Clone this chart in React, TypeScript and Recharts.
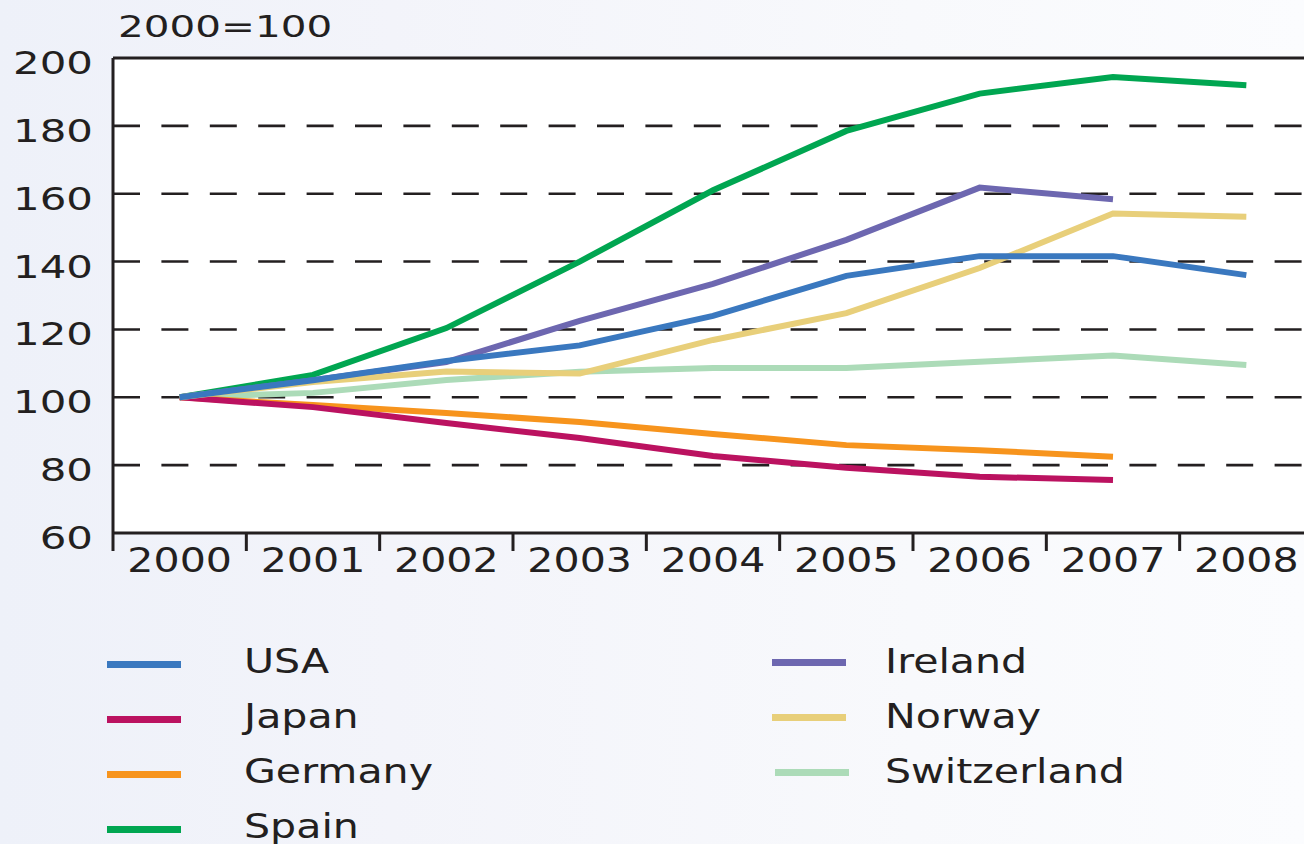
import React from 'react';
import { LineChart, Line, XAxis, YAxis, CartesianGrid, ReferenceLine } from 'recharts';

const years = ['2000', '2001', '2002', '2003', '2004', '2005', '2006', '2007', '2008'];
const usa = [100, 105, 110.7, 115.3, 124, 135.8, 141.6, 141.6, 136];
const japan = [100, 97.1, 92.4, 88, 82.7, 79.2, 76.6, 75.6, null];
const germany = [100, 97.7, 95.4, 92.7, 89.2, 85.9, 84.4, 82.5, null];
const spain = [100, 106.6, 120.4, 140, 161, 178.5, 189.5, 194.4, 192];
const ireland = [100, 105, 110.4, 122.5, 133.4, 146.4, 161.8, 158.4, null];
const norway = [100, 104.5, 107.6, 107, 116.9, 124.8, 138.1, 154.2, 153.2];
const switzerland = [100, 101.3, 105.1, 107.5, 108.6, 108.6, 110.5, 112.3, 109.5];
const yTicks = [60, 80, 100, 120, 140, 160, 180, 200];
const gridValues = [80, 100, 120, 140, 160, 180];
const title = '2000=100';

const series = [
  { key: 'Switzerland', values: switzerland, color: '#acdbb8' },
  { key: 'Germany', values: germany, color: '#f7941d' },
  { key: 'Japan', values: japan, color: '#bb1260' },
  { key: 'Spain', values: spain, color: '#00a651' },
  { key: 'Ireland', values: ireland, color: '#6d67b0' },
  { key: 'Norway', values: norway, color: '#e8cf7a' },
  { key: 'USA', values: usa, color: '#3a78bf' },
];

const legendLeft = ['USA', 'Japan', 'Germany', 'Spain'];
const legendRight = ['Ireland', 'Norway', 'Switzerland'];

const data = years.map((y, i) => {
  const row: any = { year: y };
  series.forEach((s) => {
    row[s.key] = s.values[i];
  });
  return row;
});

const INK = '#231f20';
const FONT = '"DejaVu Sans", Verdana, sans-serif';
const CHART_W = 1320;
const CHART_H = 844;
const M_TOP = 58;
const M_RIGHT = 7;
const Y_W = 113;
const X_H = 50;
const M_BOTTOM = 261;
const PLOT_W = CHART_W - M_RIGHT - Y_W;
const PLOT_BOTTOM = CHART_H - M_BOTTOM - X_H;
const HALF_BAND = PLOT_W / years.length / 2;

const XTick = (props: any) => {
  const { x, payload } = props;
  return (
    <g>
      <line x1={x - HALF_BAND} x2={x - HALF_BAND} y1={PLOT_BOTTOM} y2={PLOT_BOTTOM + 18} stroke={INK} strokeWidth={3} />
      <text
        transform={`translate(${x},${PLOT_BOTTOM + 39}) scale(1.21,1)`}
        textAnchor="middle"
        fontSize={34}
        fontFamily={FONT}
        fill={INK}
      >
        {payload.value}
      </text>
    </g>
  );
};

const YTick = (props: any) => {
  const { y, payload } = props;
  return (
    <text
      transform={`translate(${Y_W - 20},${y + 16}) scale(1.33,1)`}
      textAnchor="end"
      fontSize={31.5}
      fontFamily={FONT}
      fill={INK}
    >
      {payload.value}
    </text>
  );
};

const colorOf = (k: string) => series.find((s) => s.key === k)!.color;

const LegendText = ({ x, y, label }: { x: number; y: number; label: string }) => (
  <text transform={`translate(${x},${y}) scale(1.21,1)`} fontSize={34} fontFamily={FONT} fill={INK}>
    {label}
  </text>
);

export default function App() {
  return (
    <div
      style={{
        position: 'fixed',
        top: 0,
        left: 0,
        width: 1304,
        height: 844,
        overflow: 'hidden',
        background: 'linear-gradient(to right, #eef1f9 0%, #f3f4fa 30%, #f8f9fc 70%, #fbfcfe 100%)',
      }}
    >
      <LineChart width={CHART_W} height={CHART_H} data={data} margin={{ top: M_TOP, right: M_RIGHT, left: 0, bottom: M_BOTTOM }}>
        <CartesianGrid horizontal={false} vertical={false} fill="#ffffff" stroke="none" />
        <XAxis
          dataKey="year"
          scale="band"
          height={X_H}
          interval={0}
          axisLine={{ stroke: INK, strokeWidth: 3 }}
          tickLine={false}
          tick={<XTick />}
        />
        <YAxis
          domain={[60, 200]}
          ticks={yTicks}
          width={Y_W}
          interval={0}
          axisLine={{ stroke: INK, strokeWidth: 3 }}
          tickLine={false}
          tick={<YTick />}
        />
        {gridValues.map((v) => (
          <ReferenceLine key={v} y={v} stroke={INK} strokeWidth={2.6} strokeDasharray="27 21.4" />
        ))}
        <ReferenceLine y={200} stroke={INK} strokeWidth={3} />
        {series.map((s) => (
          <Line
            key={s.key}
            dataKey={s.key}
            type="linear"
            stroke={s.color}
            strokeWidth={6}
            dot={false}
            activeDot={false}
            isAnimationActive={false}
          />
        ))}
      </LineChart>
      <svg width={1304} height={844} style={{ position: 'absolute', top: 0, left: 0, pointerEvents: 'none' }}>
        <text transform="translate(118,37) scale(1.35,1)" fontSize={30} fontFamily={FONT} fill={INK}>
          {title}
        </text>
        {legendLeft.map((k, i) => (
          <g key={k}>
            <rect x={107} y={661 + i * 55} width={74} height={7} fill={colorOf(k)} />
            <LegendText x={244} y={673 + i * 55} label={k} />
          </g>
        ))}
        {legendRight.map((k, i) => (
          <g key={k}>
            <rect x={772 + (i === 2 ? 3 : 0)} y={659 + i * 55} width={74} height={7} fill={colorOf(k)} />
            <LegendText x={885} y={673 + i * 55} label={k} />
          </g>
        ))}
      </svg>
    </div>
  );
}
